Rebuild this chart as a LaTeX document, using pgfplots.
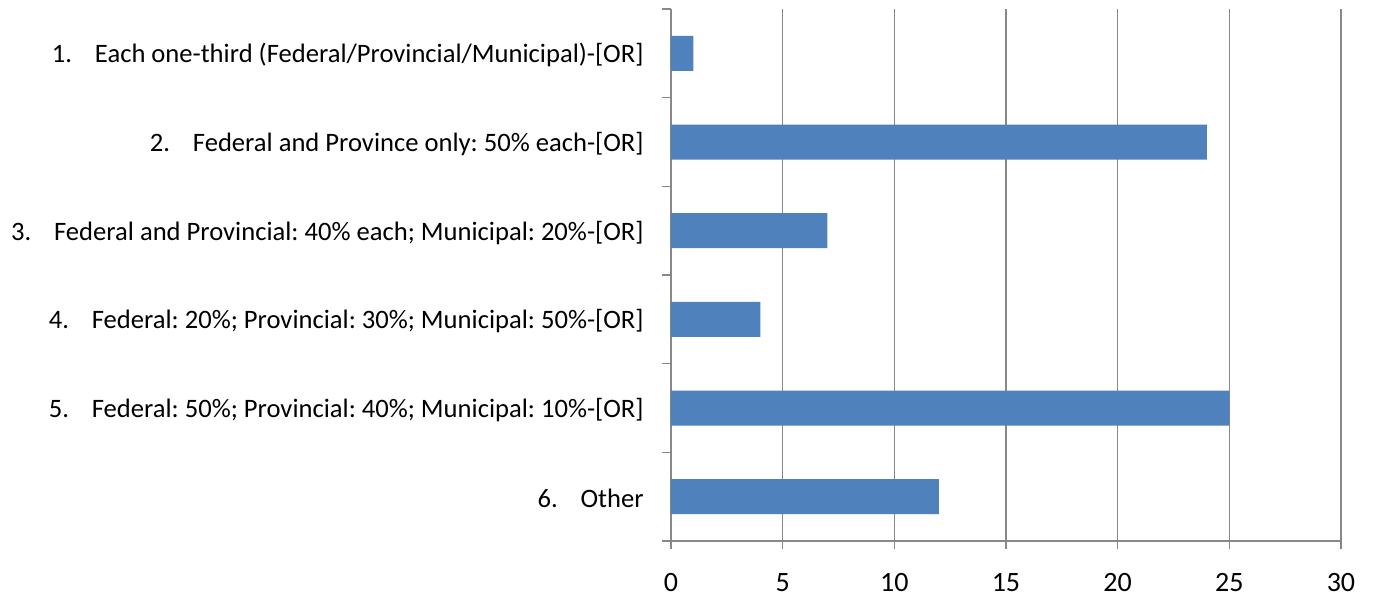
\documentclass[border=0pt]{standalone}
\usepackage{pgfplots}
\pgfplotsset{compat=1.18}
\usepackage{fontspec}
\setmainfont{Carlito}
\frenchspacing
\definecolor{barblue}{HTML}{4F81BD}
\definecolor{gridgray}{HTML}{888888}
\newcommand{\num}[2][21.5pt]{\makebox[#1][l]{#2}}
\begin{document}
\begin{tikzpicture}
\path[use as bounding box] (-335.5pt,-27.5pt) rectangle (351pt,270.5pt);
\begin{axis}[
  at={(0,0)}, anchor=south west,
  scale only axis,
  width=335pt, height=266pt,
  xbar, bar width=17.5pt,
  xmin=0, xmax=30,
  ymin=-0.5, ymax=5.5,
  y dir=reverse,
  axis x line*=bottom, axis y line*=left,
  axis line style={gridgray, line width=0.8pt},
  xtick={0,5,...,30},
  xmajorgrids, major grid style={gridgray, line width=0.8pt},
  ytick={0,1,2,3,4,5},
  yticklabels={
    {\num{1.}Each one-third (Federal/Provincial/Municipal)-[OR]},
    {\num{2.}Federal and Province only: 50\% each-[OR]},
    {\num{3.}Federal and Provincial: 40\% each; Municipal: 20\%-[OR]},
    {\num{4.}Federal: 20\%; Provincial: 30\%; Municipal: 50\%-[OR]},
    {\num{5.}Federal: 50\%; Provincial: 40\%; Municipal: 10\%-[OR]},
    {\num{6.}Other}},
  minor ytick={-0.5,0.5,...,5.5},
  tick align=outside,
  major tick length=4pt,
  y tick style={draw=none},
  minor tick length=4.5pt,
  minor y tick style={gridgray, line width=0.8pt, draw=gridgray},
  x tick style={gridgray, line width=0.8pt},
  xticklabel style={font=\fontsize{14pt}{16pt}\selectfont, text=black, anchor=north, inner sep=0pt, yshift=-12pt},
  /pgf/number format/assume math mode=true,
  yticklabel style={font=\fontsize{13.3pt}{16pt}\selectfont, text=black, anchor=east, inner sep=0pt, xshift=-9.5pt, yshift=-1pt},
]
\addplot[fill=barblue, draw=none] coordinates {
  (1,0) (24,1) (7,2) (4,3) (25,4) (12,5)
};
\end{axis}
\end{tikzpicture}
\end{document}
